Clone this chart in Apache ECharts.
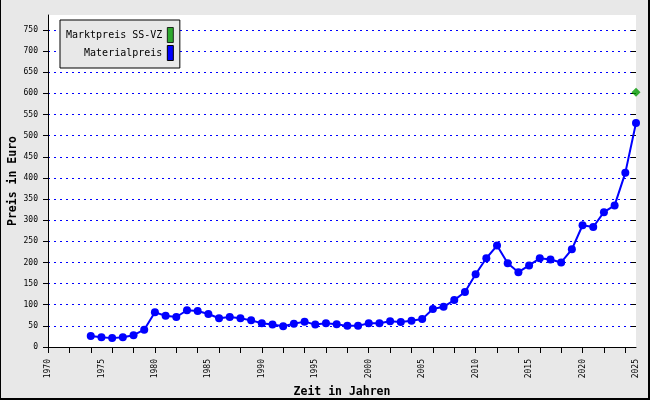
<!DOCTYPE html>
<html>
<head>
<meta charset="utf-8">
<script src="https://cdn.jsdelivr.net/npm/echarts@6/dist/echarts.min.js"></script>
<style>
html,body{margin:0;padding:0;background:#e8e8e8;}
#wrap{position:relative;width:650px;height:400px;}
#chart{position:absolute;left:0;top:0;width:650px;height:400px;background:#e8e8e8;}
#frame{position:absolute;left:0;top:0;width:650px;height:400px;box-sizing:border-box;border-left:1px solid #000;border-right:2px solid #000;border-bottom:2px solid #000;pointer-events:none;}
</style>
</head>
<body>
<div id="wrap"><div id="chart"></div><div id="frame"></div></div>
<script>
// ---- data ----
const years = [1974,1975,1976,1977,1978,1979,1980,1981,1982,1983,
               1984,1985,1986,1987,1988,1989,1990,1991,1992,1993,
               1994,1995,1996,1997,1998,1999,2000,2001,2002,2003,
               2004,2005,2006,2007,2008,2009,2010,2011,2012,2013,
               2014,2015,2016,2017,2018,2019,2020,2021,2022,2023,
               2024,2025];
const materialpreis = [26,23,21,23,28,41,82,74,71,87,
                       85,78,68,71,68,63,56,53,49,55,
                       60,53,56,54,50,50,56,56,61,59,
                       62,66,90,95,111,130,172,210,240,198,
                       177,193,210,207,200,231,288,284,319,335,
                       412,530];
const marktYears = [2025];
const marktpreis = [603];
const seriesNames = ['Marktpreis SS-VZ', 'Materialpreis'];
const xMin = 1970, xMax = 2025, xLabelStep = 5, xTickStep = 2, xLastTick = 2024;
const yMin = 0, yMax = 750, yStep = 50, yAxisTop = 785;

// ---- layout ----
const L = 48, R = 14, B = 53;
const plotW = 650 - L - R;
const font = 'DejaVu Sans Mono';
const lblStyle = {fontFamily: font, fontSize: 8, color: '#000'};
const nameStyle = {fontFamily: font, fontSize: 11.5, fontWeight: 'bold', color: '#000'};
const axLine = {show: true, lineStyle: {color: '#000', width: 1}};
const plain = v => String(v);

const chart = echarts.init(document.getElementById('chart'), null, {renderer: 'canvas'});
chart.setOption({
  animation: false,
  backgroundColor: '#e8e8e8',
  grid: [
    {left: L, right: R, top: 15, bottom: B, show: true, backgroundColor: '#fff', borderWidth: 0, outerBoundsMode: 'none', containLabel: false},
    {left: L, right: R, top: 30, bottom: B, outerBoundsMode: 'none', containLabel: false},
    {left: L, width: plotW * (xLastTick - xMin) / (xMax - xMin), top: 30, bottom: B, outerBoundsMode: 'none', containLabel: false}
  ],
  legend: {
    orient: 'vertical', left: 60, top: 20, align: 'right',
    data: seriesNames, icon: 'rect', itemWidth: 6, itemHeight: 15, itemGap: 2,
    padding: [7, 6, 7, 6], backgroundColor: '#e8e8e8', borderColor: '#000', borderWidth: 1,
    borderRadius: 0,
    itemStyle: {borderColor: '#000', borderWidth: 1},
    textStyle: {fontFamily: font, fontSize: 10, color: '#000'}
  },
  xAxis: [
    {gridIndex: 1, type: 'value', min: xMin, max: xMax, interval: xLabelStep,
     axisLine: axLine, axisTick: {show: false}, splitLine: {show: false},
     axisLabel: Object.assign({rotate: 90, margin: 12, formatter: plain}, lblStyle),
     name: 'Zeit in Jahren', nameLocation: 'middle', nameGap: 32, nameTextStyle: nameStyle},
    {gridIndex: 2, type: 'value', min: xMin, max: xLastTick, interval: xTickStep,
     axisLine: {show: false}, axisTick: {show: true, length: 6, lineStyle: {color: '#000'}},
     axisLabel: {show: false}, splitLine: {show: false}},
    {gridIndex: 0, type: 'value', min: xMin, max: xMax, show: false}
  ],
  yAxis: [
    {gridIndex: 1, type: 'value', min: yMin, max: yMax, interval: yStep,
     axisLine: axLine, axisTick: {show: true, length: 5, lineStyle: {color: '#000'}},
     axisLabel: Object.assign({margin: 10, formatter: plain}, lblStyle),
     splitLine: {show: true, showMinLine: false, lineStyle: {color: '#0000ff', width: 1, type: [2, 4]}}},
    {gridIndex: 1, type: 'value', min: yMin, max: yMax, interval: yStep,
     axisLine: {show: false}, axisTick: {show: true, inside: true, length: 5, lineStyle: {color: '#000'}},
     axisLabel: {show: false}, splitLine: {show: false}},
    {gridIndex: 2, type: 'value', min: yMin, max: yMax, show: false},
    {gridIndex: 0, type: 'value', min: yMin, max: yAxisTop,
     axisLine: axLine, axisTick: {show: false}, axisLabel: {show: false}, splitLine: {show: false},
     name: 'Preis in Euro', nameLocation: 'middle', nameGap: 29, nameTextStyle: nameStyle}
  ],
  series: [
    {name: seriesNames[0], type: 'scatter', xAxisIndex: 0, yAxisIndex: 0,
     symbol: 'diamond', symbolSize: 9, itemStyle: {color: '#009900'},
     data: marktYears.map((y, i) => [y, marktpreis[i]]), z: 5},
    {name: seriesNames[1], type: 'line', xAxisIndex: 0, yAxisIndex: 0,
     symbol: 'circle', symbolSize: 8, showAllSymbol: true,
     itemStyle: {color: '#0000ff'}, lineStyle: {color: '#0000ff', width: 2},
     data: years.map((y, i) => [y, materialpreis[i]])}
  ]
});
</script>
</body>
</html>
